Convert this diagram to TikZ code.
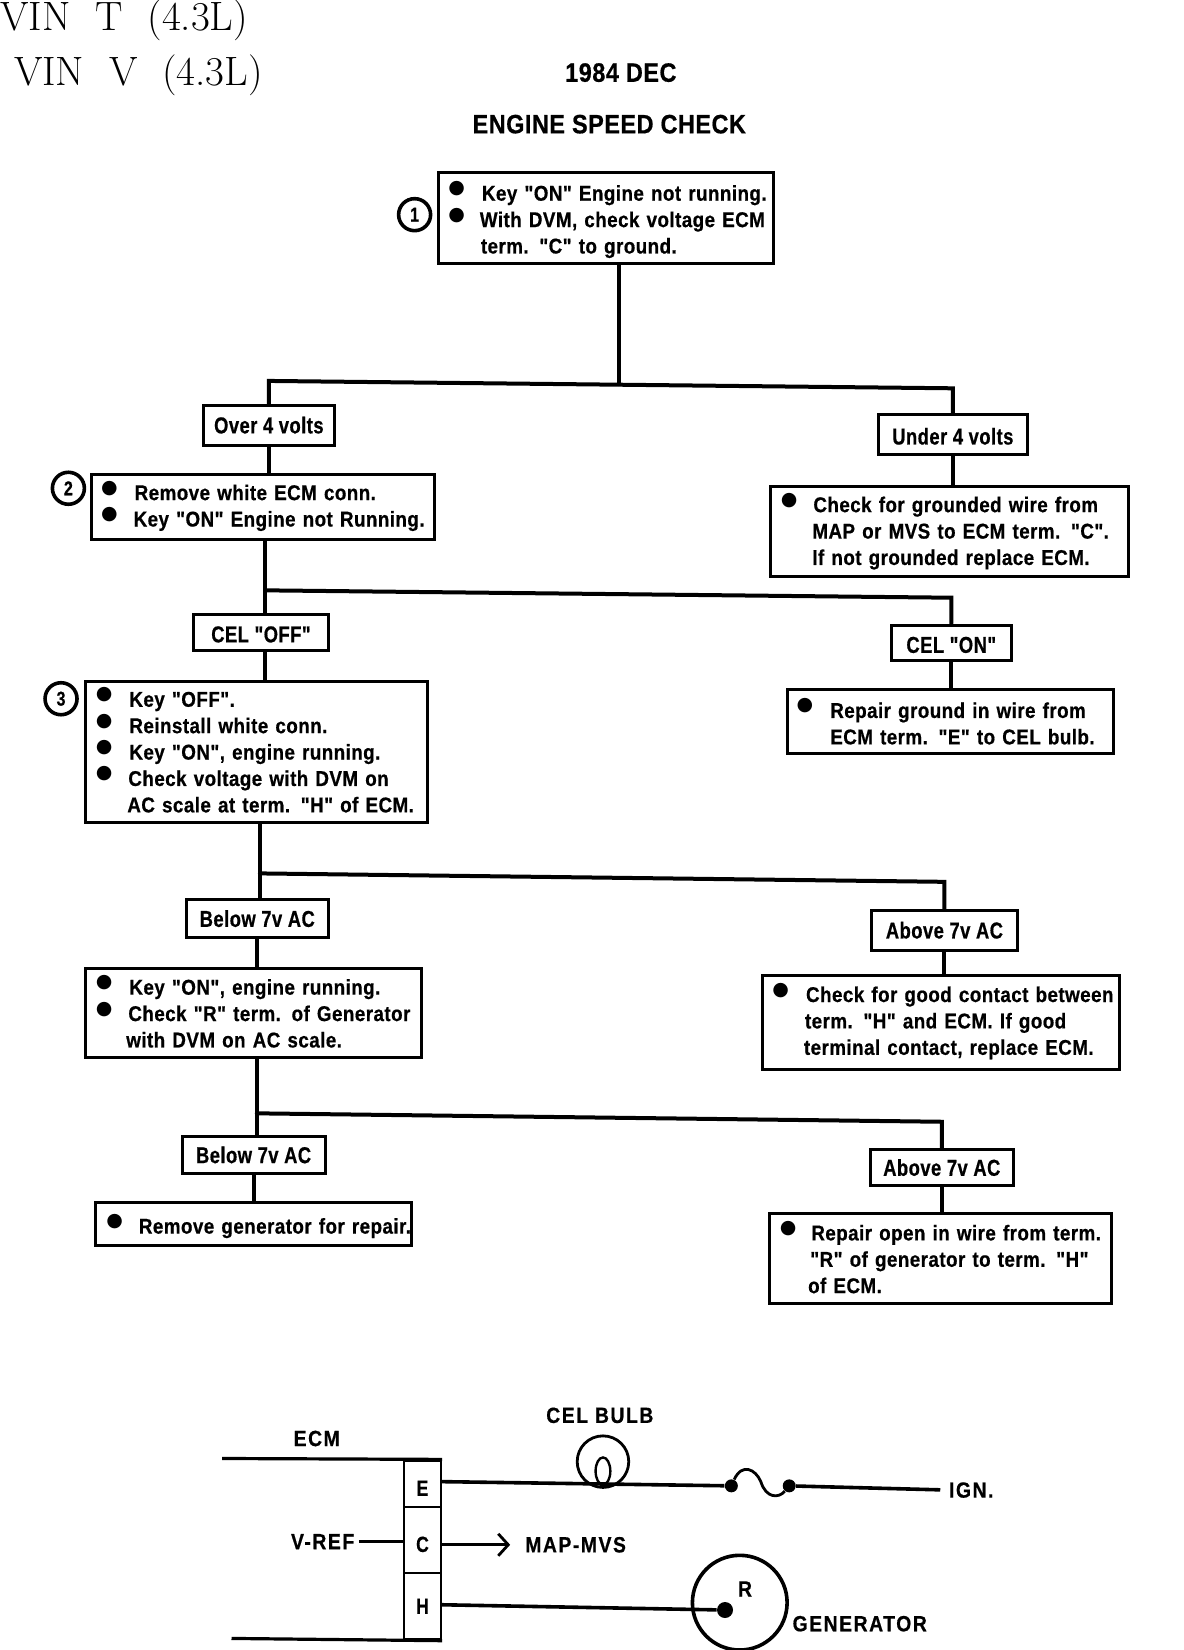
\documentclass[tikz,border=0pt]{standalone}
\usepackage{fontspec}
\usetikzlibrary{arrows.meta,shapes.geometric}
\newfontfamily\labf[FakeStretch=0.8,LetterSpace=2,FakeBold=0.6]{Liberation Sans Bold}
\newfontfamily\inff[FakeStretch=0.88,LetterSpace=2,FakeBold=0.6]{Liberation Sans Bold}
\newfontfamily\schf[FakeStretch=0.88,LetterSpace=7,FakeBold=0.6]{Liberation Sans Bold}
\newfontfamily\bulf{DejaVu Sans}
\newlength{\uu}\setlength{\uu}{0.5262pt}
\newcommand{\dy}{3.5}
\newcommand{\itm}[3]{\leavevmode\rlap{\hspace*{#1\uu}\smash{\raisebox{\dimexpr1.5pt-\dy\uu\relax}{\bulf\fontsize{9.5}{13}\selectfont●}}}\rlap{\hspace*{#2\uu}\smash{\raisebox{\dimexpr-2pt-\dy\uu\relax}{#3}}}}
\newcommand{\ctn}[2]{\leavevmode\rlap{\hspace*{#1\uu}\smash{\raisebox{\dimexpr-2pt-\dy\uu\relax}{#2}}}}
\tikzset{
  x=0.5262pt,y=-0.5262pt,
  lbl/.style={draw=black,line width=1.5pt,inner sep=0pt,font=\labf\fontsize{11.5}{13}\selectfont,align=center},
  info/.style={draw=black,line width=1.5pt,inner sep=0pt,align=left,font=\inff\fontsize{10.7}{13.2}\selectfont},
  num/.style={draw=black,circle,line width=1.8pt,inner sep=0pt,minimum size=16pt,font=\labf\fontsize{10}{11}\selectfont},
  flow/.style={line width=2pt,line cap=round},
  wire/.style={line width=1.4pt},
  txt/.style={inner sep=0pt,font=\schf\fontsize{11}{13}\selectfont},
  head/.style={inner sep=0pt,font=\inff\fontsize{13.3}{15}\selectfont},
  vin/.style={inner sep=0pt,anchor=west,font=\fontsize{20.5}{24}\selectfont},
  dot/.style={circle,fill=black,inner sep=0pt,minimum size=6.5pt},
  term/.style={draw=black,line width=1.2pt,inner sep=0pt,minimum width=35\uu,font=\labf\fontsize{11}{12}\selectfont},
}
\begin{document}
\begin{tikzpicture}
\useasboundingbox (0,0) rectangle (1125,1568);
% titles
\node[vin] (vt) at (0,19) {VIN~~T~~(4.3L)};
\node[vin] (vv) at (13,72) {VIN~~V~~(4.3L)};
\node[head] (date) at (590,69) {1984 DEC};
\node[head] (title) at (579,118) {ENGINE SPEED CHECK};
% circled numbers
\node[num] (n1) at (394,204) {1};
\node[num] (n2) at (65,464) {2};
\node[num] (n3) at (58,664) {3};
% boxes
\node[info,minimum width=318\uu,minimum height=87\uu,text width=318\uu] (b1) at (576,207) {\renewcommand{\dy}{5}%
\itm{9}{41}{Key "ON" Engine not running.}\\
\itm{9}{39}{With DVM, check voltage ECM}\\
\ctn{40}{term. "C" to ground.}};
\node[lbl,minimum width=125\uu,minimum height=38\uu] (over) at (255.5,404) {Over 4 volts};
\node[lbl,minimum width=141\uu,minimum height=38\uu] (under) at (905.5,413) {\rule{0pt}{10pt}Under 4 volts};
\node[info,minimum width=326\uu,minimum height=62\uu,text width=326\uu] (b2) at (250,482) {\renewcommand{\dy}{2}%
\itm{9}{41}{Remove white ECM conn.}\\
\itm{9}{40}{Key "ON" Engine not Running.}};
\node[info,minimum width=340\uu,minimum height=86\uu,text width=340\uu] (b2r) at (902,505) {\renewcommand{\dy}{3}%
\itm{10}{41}{Check for grounded wire from}\\
\ctn{40}{MAP or MVS to ECM term. "C".}\\
\ctn{40}{If not grounded replace ECM.}};
\node[lbl,minimum width=128\uu,minimum height=34\uu] (off) at (248,601) {\rule{0pt}{10pt}CEL "OFF"};
\node[lbl,minimum width=114\uu,minimum height=34\uu] (on) at (904,611) {\rule{0pt}{10pt}CEL "ON"};
\node[info,minimum width=325\uu,minimum height=134\uu,text width=325\uu] (b3) at (243.5,715) {\renewcommand{\dy}{3}%
\itm{10}{42}{Key "OFF".}\\
\itm{10}{42}{Reinstall white conn.}\\
\itm{10}{42}{Key "ON", engine running.}\\
\itm{10}{41}{Check voltage with DVM on}\\
\ctn{40}{AC scale at term. "H" of ECM.}};
\node[info,minimum width=310\uu,minimum height=61\uu,text width=310\uu] (b3r) at (903,686) {\renewcommand{\dy}{5}%
\itm{9}{41}{Repair ground in wire from}\\
\ctn{41}{ECM term. "E" to CEL bulb.}};
\node[lbl,minimum width=135\uu,minimum height=36\uu] (bel1) at (244.5,873) {Below 7v AC};
\node[lbl,minimum width=139\uu,minimum height=38\uu] (abv1) at (897.5,884) {Above 7v AC};
\node[info,minimum width=320\uu,minimum height=85\uu,text width=320\uu] (b4) at (241,962.5) {\renewcommand{\dy}{4}%
\itm{10}{42}{Key "ON", engine running.}\\
\itm{10}{41}{Check "R" term. of Generator}\\
\ctn{39}{with DVM on AC scale.}};
\node[info,minimum width=339\uu,minimum height=89\uu,text width=339\uu] (b4r) at (894.5,971.5) {\renewcommand{\dy}{2}%
\itm{9}{41}{Check for good contact between}\\
\ctn{40}{term. "H" and ECM. If good}\\
\ctn{39}{terminal contact, replace ECM.}};
\node[lbl,minimum width=136\uu,minimum height=35\uu] (bel2) at (241,1097.5) {Below 7v AC};
\node[lbl,minimum width=136\uu,minimum height=35\uu] (abv2) at (895,1109.5) {Above 7v AC};
\node[info,minimum width=300\uu,minimum height=41\uu,text width=300\uu] (b5) at (241,1163.5) {\renewcommand{\dy}{5}%
\itm{10}{41}{Remove generator for repair.}};
\node[info,minimum width=325\uu,minimum height=86\uu,text width=325\uu] (b5r) at (893.5,1196) {\renewcommand{\dy}{4}%
\itm{10}{40}{Repair open in wire from term.}\\
\ctn{39}{"R" of generator to term. "H"}\\
\ctn{37}{of ECM.}};
% flow junctions
\coordinate (t1) at (588,365);
\coordinate (jl1) at (255.5,362);
\coordinate (jr1) at (905.5,369);
\coordinate (t2) at (252,561);
\coordinate (jr2) at (904,568);
\coordinate (t3) at (247,830);
\coordinate (jr3) at (897.5,838);
\coordinate (t4) at (244,1058);
\coordinate (jr4) at (895,1066);
% flow lines
\draw[flow] (b1.south -| t1) -- (t1);
\draw[flow] (over.north) -- (jl1) -- (jr1) -- (under.north);
\draw[flow] (over.south) -- (over.south |- b2.north);
\draw[flow] (under.south) -- (under.south |- b2r.north);
\draw[flow] (b2.south -| t2) -- (off.north -| t2);
\draw[flow] (t2) -- (jr2) -- (on.north);
\draw[flow] (off.south -| t2) -- (b3.north -| t2);
\draw[flow] (on.south) -- (on.south |- b3r.north);
\draw[flow] (b3.south -| t3) -- (bel1.north -| t3);
\draw[flow] (t3) -- (jr3) -- (abv1.north);
\draw[flow] (bel1.south) -- (bel1.south |- b4.north);
\draw[flow] (abv1.south) -- (abv1.south |- b4r.north);
\draw[flow] (b4.south -| t4) -- (bel2.north -| t4);
\draw[flow] (t4) -- (jr4) -- (abv2.north);
\draw[flow] (bel2.south) -- (b5.north);
\draw[flow] (abv2.south) -- (abv2.south |- b5r.north);
% schematic
\node[term,minimum height=44\uu] (te) at (401.5,1410) {\rule{0pt}{12pt}E};
\node[term,minimum height=63\uu] (tc) at (401.5,1463.5) {\rule{0pt}{12pt}C};
\node[term,minimum height=63\uu] (th) at (401.5,1526.5) {H};
\coordinate (ecmt) at (211,1386);
\coordinate (ecmb) at (220,1557);
\coordinate (ey) at (0,1408);
\coordinate (hy) at (0,1525);
\draw[wire,line width=1.6pt] (ecmt) -- (te.north east);
\draw[wire,line width=1.6pt] (ecmb) -- (th.south east);
\node[txt] (ecm) at (301,1367) {ECM};
\node[txt,anchor=east] (vref) at (337,1465) {V-REF};
\draw[wire,shorten <=4\uu] (vref.east) -- (tc.west |- vref.east);
\node[txt] (celb) at (570,1345) {CEL BULB};
\node[draw=black,circle,line width=1.4pt,minimum size=49\uu,inner sep=0pt] (bulb) at (573,1389) {};
\node[draw=black,ellipse,line width=1.2pt,minimum width=14\uu,minimum height=26\uu,inner sep=0pt] (fil) at (573,1398) {};
\node[dot] (f1) at (695,1412) {};
\node[dot] (f2) at (750,1412) {};
\node[txt] (ign) at (923,1416) {IGN.};
\draw[wire,line width=1.8pt] (te.east |- ey) -- (f1);
\draw[wire] (f1) .. controls (705,1390) and (718,1396) .. (723,1408) .. controls (728,1424) and (740,1424) .. (f2);
\draw[wire,line width=1.8pt,shorten >=8\uu] (f2) -- (ign.west);
\node[txt] (map) at (547,1468) {MAP-MVS};
\draw[wire,shorten >=14\uu,-{Straight Barb[length=5pt,width=11pt,line width=1.4pt]}] (tc.east |- map) -- (map.west);
\node[draw=black,circle,line width=1.8pt,minimum size=90\uu,inner sep=0pt] (gen) at (703,1523) {};
\node[dot,minimum size=8pt] (r) at (689,1530) {};
\node[txt] (rl) at (708,1510) {R};
\node[txt] (genl) at (817,1543) {GENERATOR};
\draw[wire,line width=1.8pt] (th.east |- hy) -- (r);
\end{tikzpicture}
\end{document}
